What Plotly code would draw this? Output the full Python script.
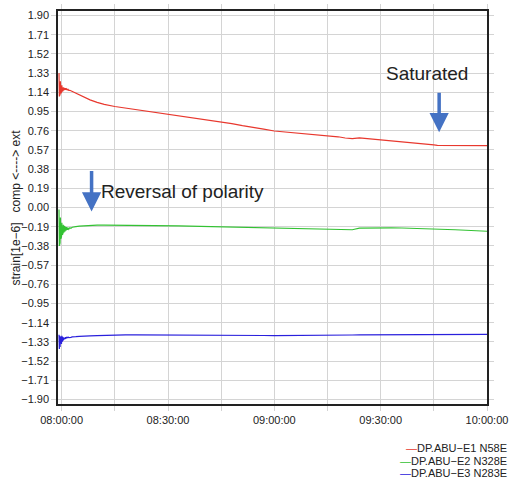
import pandas as pd
import plotly.graph_objects as go

# ---- data (minutes relative to 08:00:00) ----
minutes = [-0.75, -0.65, -0.55, -0.45, -0.35, -0.25, -0.15, -0.05, 0.05, 0.15,
           0.25, 0.35, 0.45, 0.6, 0.75, 0.9, 1.05, 1.2, 1.4, 1.6,
           1.8, 2.0, 2.3, 2.6, 3.0, 3.5,
           4, 5, 6, 8, 10, 12, 15, 18, 21, 24, 27, 30, 33, 36, 39, 42, 45,
           48, 51, 54, 57, 60, 63, 66, 69, 72, 75, 78, 80, 82, 84, 86, 90,
           93, 96, 99, 102, 105, 106, 108, 111, 114, 117, 120]

e1_n58e = [1.33, 1.10, 1.29, 1.12, 1.25, 1.13, 1.23, 1.14, 1.21, 1.15,
           1.20, 1.155, 1.19, 1.16, 1.185, 1.165, 1.18, 1.165, 1.175, 1.165,
           1.17, 1.16, 1.16, 1.155, 1.15, 1.145,
           1.13, 1.12, 1.10, 1.065, 1.04, 1.02, 1.00, 0.985, 0.97, 0.955, 0.94, 0.927, 0.91, 0.895, 0.877, 0.86, 0.845,
           0.83, 0.81, 0.795, 0.775, 0.757, 0.748, 0.738, 0.73, 0.72, 0.712, 0.70, 0.688, 0.682, 0.69, 0.684, 0.665,
           0.656, 0.647, 0.638, 0.63, 0.62, 0.615, 0.614, 0.614, 0.613, 0.613, 0.613]

e2_n328e = [-0.02, -0.38, -0.06, -0.35, -0.10, -0.31, -0.13, -0.29, -0.15, -0.27,
            -0.16, -0.26, -0.17, -0.25, -0.18, -0.24, -0.19, -0.23, -0.195, -0.22,
            -0.20, -0.215, -0.20, -0.205, -0.195, -0.195,
            -0.19, -0.185, -0.182, -0.178, -0.175, -0.175, -0.175, -0.176, -0.176, -0.178, -0.179, -0.18, -0.182, -0.184, -0.186, -0.188, -0.19,
            -0.193, -0.196, -0.199, -0.202, -0.205, -0.207, -0.209, -0.211, -0.213, -0.215, -0.216, -0.218, -0.22, -0.205, -0.203, -0.202,
            -0.202, -0.203, -0.205, -0.207, -0.21, -0.212, -0.215, -0.22, -0.225, -0.23, -0.235]

e3_n283e = [-1.26, -1.40, -1.27, -1.38, -1.28, -1.36, -1.29, -1.35, -1.27, -1.33,
            -1.28, -1.32, -1.285, -1.31, -1.29, -1.30, -1.285, -1.295, -1.285, -1.29,
            -1.283, -1.287, -1.282, -1.285, -1.28, -1.282,
            -1.278, -1.275, -1.272, -1.27, -1.268, -1.265, -1.262, -1.26, -1.26, -1.26, -1.26, -1.26, -1.262, -1.262, -1.263, -1.264, -1.265,
            -1.266, -1.266, -1.267, -1.267, -1.268, -1.268, -1.268, -1.267, -1.267, -1.267, -1.266, -1.265, -1.262, -1.26, -1.26, -1.259,
            -1.258, -1.258, -1.257, -1.257, -1.256, -1.256, -1.256, -1.256, -1.255, -1.255, -1.255]

series_names = ["DP.ABU\u2212E1 N58E", "DP.ABU\u2212E2 N328E", "DP.ABU\u2212E3 N283E"]
series_colors = ["#e8382e", "#33c233", "#2a20dc"]

y_ticks = [-1.90, -1.71, -1.52, -1.33, -1.14, -0.95, -0.76, -0.57, -0.38, -0.19,
           0.00, 0.19, 0.38, 0.57, 0.76, 0.95, 1.14, 1.33, 1.52, 1.71, 1.90]

base = pd.Timestamp("2021-01-01 08:00:00")
times = [base + pd.Timedelta(minutes=m) for m in minutes]

fig = go.Figure()
for name, vals, col in zip(series_names, [e1_n58e, e2_n328e, e3_n283e], series_colors):
    fig.add_trace(go.Scatter(x=times, y=vals, mode="lines", name=name,
                             line=dict(color=col, width=1.2), showlegend=False))

grid = "#d4d4d4"
fig.update_layout(
    width=510, height=481,
    margin=dict(l=58, r=23, t=11, b=77),
    paper_bgcolor="white", plot_bgcolor="white",
    font=dict(family="Liberation Sans, Arial, sans-serif", size=11, color="#222"),
)
fig.update_xaxes(
    automargin=False,
    range=[base - pd.Timedelta(seconds=62), base + pd.Timedelta(minutes=120)],
    tickformat="%H:%M:%S", dtick=30 * 60 * 1000, tick0=base,
    showgrid=True, gridcolor=grid, gridwidth=1.2,
    ticks="outside", ticklen=5, tickcolor=grid, tickwidth=1.2,
    showline=True, linecolor="#222", linewidth=1.5, mirror="allticks",
    minor=dict(dtick=15 * 60 * 1000, tick0=base, showgrid=True, gridcolor=grid, gridwidth=1.2,
               ticks="outside", ticklen=5, tickcolor=grid),
    zeroline=False,
)
fig.update_yaxes(
    automargin=False,
    range=[-1.945, 1.945], tickvals=y_ticks, tickformat=".2f",
    showgrid=True, gridcolor=grid, gridwidth=1.2,
    ticks="outside", ticklen=5, tickcolor=grid, tickwidth=1.2,
    showline=True, linecolor="#222", linewidth=1.5, mirror="allticks",
    zeroline=False,
)

arrow_col = "#4472c4"
fig.add_annotation(x=base + pd.Timedelta(minutes=106.5), y=0.746, ax=0, ay=-41,
                   showarrow=True, arrowhead=2, arrowsize=1.1, arrowwidth=3.5,
                   arrowcolor=arrow_col, text="", standoff=0)
fig.add_annotation(x=base + pd.Timedelta(minutes=8.44), y=-0.04, ax=0, ay=-42,
                   showarrow=True, arrowhead=2, arrowsize=1.1, arrowwidth=3.5,
                   arrowcolor=arrow_col, text="", standoff=0)
fig.add_annotation(x=base + pd.Timedelta(minutes=103.1), y=1.326, text="Saturated",
                   showarrow=False, font=dict(size=19, color="#222"),
                   xanchor="center", yanchor="middle")
fig.add_annotation(x=base + pd.Timedelta(minutes=34.1), y=0.156, text="Reversal of polarity",
                   showarrow=False, font=dict(size=19, color="#222"),
                   xanchor="center", yanchor="middle")

# y-axis title
fig.add_annotation(xref="paper", yref="paper", x=-0.098, y=0.5,
                   text="strain[1e\u22126]\u00a0\u00a0\u00a0comp <----> ext", textangle=-90,
                   showarrow=False, font=dict(size=12, color="#222"),
                   xanchor="center", yanchor="middle")

# legend (bottom right)
for i, (name, col) in enumerate(zip(series_names, series_colors)):
    fig.add_annotation(xref="paper", yref="paper", x=1.05, y=-0.112 - i * 0.032,
                       text=f"<span style='color:{col}'>\u2014</span>{name}",
                       showarrow=False, font=dict(size=11, color="#222"),
                       xanchor="right", yanchor="middle", borderpad=0)

fig.write_html(
    "out.html",
    config={"displayModeBar": False},
    post_script="document.body.style.margin='0';document.body.style.overflow='hidden';",
)
